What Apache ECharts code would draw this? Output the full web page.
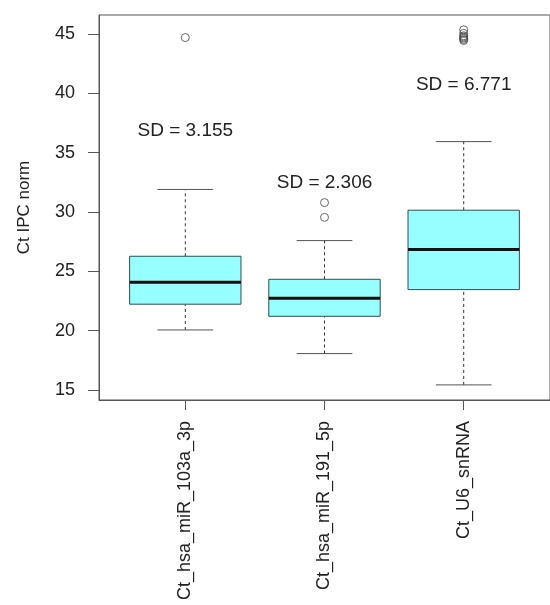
<!DOCTYPE html>
<html>
<head>
<meta charset="utf-8">
<script src="https://cdn.jsdelivr.net/npm/echarts@6/dist/echarts.min.js"></script>
<style>html,body{margin:0;padding:0;background:#fff;}#c{width:550px;height:605px;}</style>
</head>
<body>
<div id="c"></div>
<script>
// ---- data ----
const categories = ['Ct_hsa_miR_103a_3p', 'Ct_hsa_miR_191_5p', 'Ct_U6_snRNA'];
const lowerWhisker = [20.06, 18.07, 15.43];
const q1Values = [22.23, 21.21, 23.46];
const medianValues = [24.08, 22.73, 26.83];
const q3Values = [26.27, 24.33, 30.15];
const upperWhisker = [31.9, 27.59, 35.93];
const outliers1 = [44.7];
const outliers2 = [30.79, 29.55];
const outliers3 = [45.35, 45.05, 44.85, 44.75, 44.65, 44.55, 44.45];
const sdLabels = ['SD = 3.155', 'SD = 2.306', 'SD = 6.771'];
const sdLabelY = [36.83, 32.45, 40.7];
const yTicks = [15, 20, 25, 30, 35, 40, 45];

const font = '"Liberation Sans", Arial, sans-serif';
const textColor = '#222';

const boxData = categories.map((c, i) => [i + 1, lowerWhisker[i], q1Values[i], medianValues[i], q3Values[i], upperWhisker[i]]);
const outlierData = [];
[outliers1, outliers2, outliers3].forEach((arr, i) => arr.forEach(v => outlierData.push([i + 1, v])));
const sdData = sdLabels.map((t, i) => [i + 1, sdLabelY[i]]);

function renderBox(params, api) {
  const x = api.value(0);
  const lo = api.coord([x, api.value(1)]);
  const q1 = api.coord([x, api.value(2)]);
  const md = api.coord([x, api.value(3)]);
  const q3 = api.coord([x, api.value(4)]);
  const hi = api.coord([x, api.value(5)]);
  const halfBox = api.size([0.4, 0])[0];
  const halfCap = api.size([0.2, 0])[0];
  const dash = { stroke: '#333', lineWidth: 1, lineDash: [3, 3] };
  const cap = { stroke: '#555', lineWidth: 1 };
  return {
    type: 'group',
    children: [
      { type: 'line', shape: { x1: lo[0], y1: lo[1], x2: q1[0], y2: q1[1] }, style: dash },
      { type: 'line', shape: { x1: q3[0], y1: q3[1], x2: hi[0], y2: hi[1] }, style: dash },
      { type: 'line', shape: { x1: lo[0] - halfCap, y1: lo[1], x2: lo[0] + halfCap, y2: lo[1] }, style: cap },
      { type: 'line', shape: { x1: hi[0] - halfCap, y1: hi[1], x2: hi[0] + halfCap, y2: hi[1] }, style: cap },
      { type: 'rect', shape: { x: q3[0] - halfBox, y: q3[1], width: 2 * halfBox, height: q1[1] - q3[1] },
        style: { fill: '#97FFFF', stroke: '#2f4f4f', lineWidth: 1 } },
      { type: 'line', shape: { x1: md[0] - halfBox, y1: md[1], x2: md[0] + halfBox, y2: md[1] },
        style: { stroke: '#111', lineWidth: 3 } }
    ]
  };
}

function renderText(params, api) {
  const p = api.coord([api.value(0), api.value(1)]);
  return {
    type: 'text',
    x: p[0], y: p[1],
    style: { text: sdLabels[params.dataIndex], fill: textColor, font: '19px ' + font, align: 'center', verticalAlign: 'middle' }
  };
}

const chart = echarts.init(document.getElementById('c'), null, { renderer: 'canvas' });
chart.setOption({
  backgroundColor: '#fff',
  animation: false,
  grid: { left: 99, right: -9, top: 15, bottom: 205, show: true, borderColor: '#555', borderWidth: 1, backgroundColor: 'transparent' },
  xAxis: {
    type: 'value', min: 0.38, max: 3.62,
    splitLine: { show: false },
    axisLine: { show: true, onZero: false, lineStyle: { color: '#555' } },
    axisTick: { show: true, length: 10, lineStyle: { color: '#555' }, customValues: [1, 2, 3] },
    axisLabel: {
      show: true, rotate: 90, margin: 21, customValues: [1, 2, 3],
      formatter: v => categories[Math.round(v) - 1] || '',
      fontFamily: font, fontSize: 18, color: textColor
    }
  },
  yAxis: {
    type: 'value', min: 14.157, max: 46.6,
    name: 'Ct IPC norm', nameLocation: 'middle', nameGap: 66,
    nameTextStyle: { fontFamily: font, fontSize: 17, color: textColor },
    splitLine: { show: false },
    axisLine: { show: true, onZero: false, lineStyle: { color: '#555' } },
    axisTick: { show: true, length: 11, lineStyle: { color: '#555' }, customValues: yTicks },
    axisLabel: { show: true, margin: 24, customValues: yTicks, fontFamily: font, fontSize: 18, color: textColor }
  },
  series: [
    { type: 'custom', renderItem: renderBox, data: boxData, encode: { x: 0, y: [1, 2, 3, 4, 5] }, z: 2 },
    { type: 'scatter', data: outlierData, symbol: 'circle', symbolSize: 8,
      itemStyle: { color: 'rgba(255,255,255,0)', borderColor: '#444', borderWidth: 1 }, z: 3 },
    { type: 'custom', renderItem: renderText, data: sdData, encode: { x: 0, y: 1 }, z: 4 }
  ]
});
</script>
</body>
</html>
